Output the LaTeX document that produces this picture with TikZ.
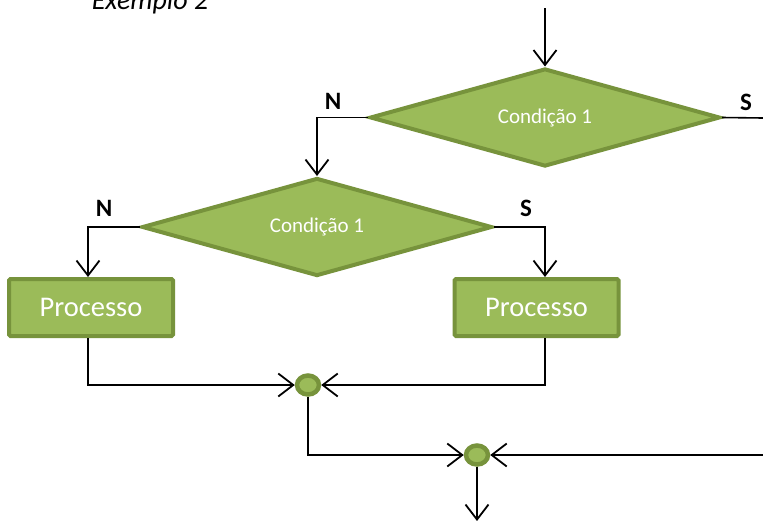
\documentclass[tikz,border=0pt]{standalone}
\usepackage{fontspec}
\setmainfont{Carlito}
\usetikzlibrary{shapes.geometric,arrows.meta}
\definecolor{olivefill}{HTML}{9BBB59}
\definecolor{oliveedge}{HTML}{77933C}
\begin{document}
\begin{tikzpicture}[x=1pt,y=-1pt,
  decision/.style={diamond, draw=oliveedge, fill=olivefill, line width=4pt,
    aspect=3.54, minimum width=350pt, minimum height=98pt, inner sep=0pt,
    text=white, font=\fontsize{21}{25}\selectfont},
  procbox/.style={rectangle, draw=oliveedge, fill=olivefill, line width=4pt,
    rounded corners=1.5pt, minimum width=164pt, minimum height=57pt,
    inner sep=0pt, text=white, font=\fontsize{28.5}{34}\selectfont},
  junction/.style={ellipse, draw=oliveedge, fill=olivefill, line width=4.5pt,
    minimum width=22pt, minimum height=19pt, inner sep=0pt},
  flowline/.style={line width=1.6pt, black},
  flowarrow/.style={flowline, -{Straight Barb[length=15pt,width=23pt,line width=1.8pt]}},
  branch/.style={font=\fontsize{25}{30}\selectfont\bfseries}]
\useasboundingbox (0,0) rectangle (763,520);

% title
\node[anchor=base, font=\fontsize{28}{34}\selectfont\itshape] (title) at (150,9) {Exemplo 2};

% decisions
\node[decision] (d1) at (545,117.5) {\raisebox{-2pt}{Condição 1}};
\node[decision] (d2) at (317,227) {\raisebox{-2pt}{Condição 1}};

% processes
\node[procbox] (p1) at (91,307.5) {\raisebox{-3pt}{Processo}};
\node[procbox] (p2) at (536.5,307.5) {\raisebox{-3pt}{Processo}};

% junctions
\node[junction] (j1) at (308,385) {};
\node[junction] (j2) at (477,455) {};

% free ends
\coordinate (in) at (545,8);
\coordinate (sout) at (763,118);
\coordinate (rin) at (763,455);
\coordinate (out) at (477,521);

% branch labels
\node[branch] (n1) at (333,101) {N};
\node[branch] (s1) at (746,102) {S};
\node[branch] (n2) at (104,208) {N};
\node[branch] (s2) at (526,208) {S};

% connectors
\draw[flowarrow] (in) -- (d1.north);
\draw[flowline] (d1.east) -- (sout);
\draw[flowarrow] (d1.west) -| (d2.north);
\draw[flowarrow] (d2.west) -| ([xshift=-3pt]p1.north);
\draw[flowarrow] (d2.east) -| ([xshift=8.5pt]p2.north);
\draw[flowarrow] ([xshift=-3pt]p1.south) |- (j1.west);
\draw[flowarrow] ([xshift=8.5pt]p2.south) |- (j1.east);
\draw[flowarrow] (j1.south) |- (j2.west);
\draw[flowarrow] (rin) -- (j2.east);
\draw[flowarrow] (j2.south) -- (out);
\end{tikzpicture}
\end{document}
